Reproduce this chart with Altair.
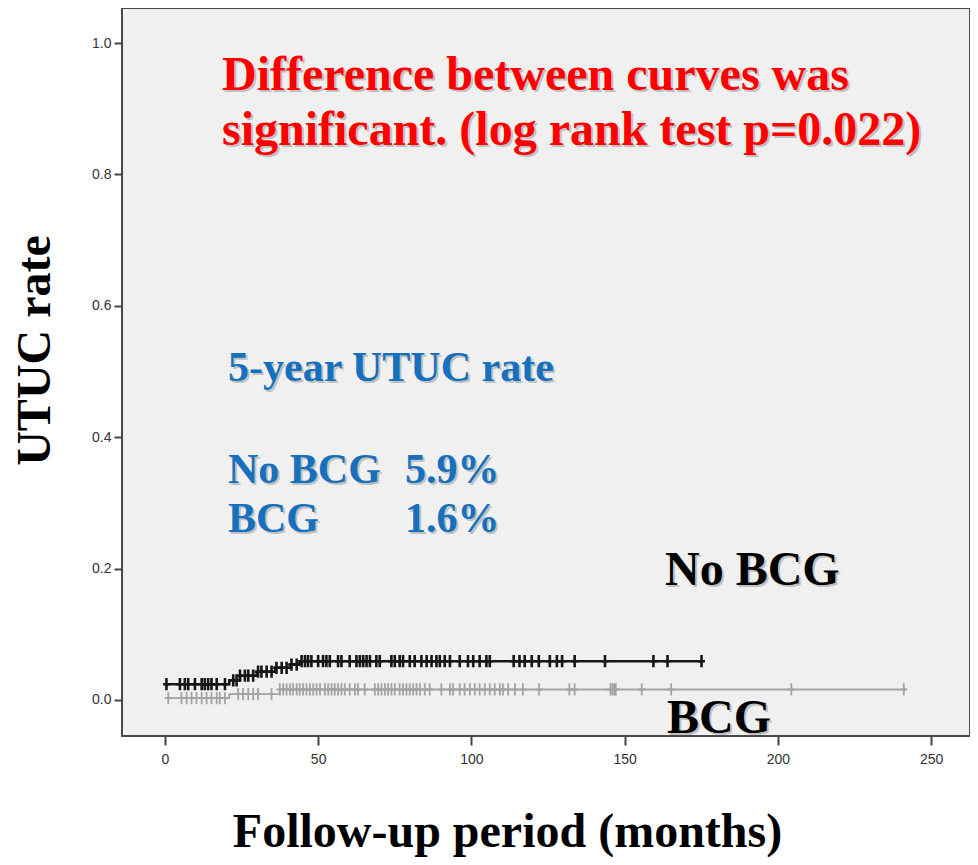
import altair as alt
import pandas as pd
import numpy as np

# ---------------- data ----------------
groups = ["No BCG", "BCG"]

# Kaplan-Meier cumulative UTUC rate: step times (months) and levels
nobcg_step_time = [0, 21, 24.5, 30, 36, 41, 44]
nobcg_step_rate = [0.024, 0.030, 0.037, 0.043, 0.049, 0.054, 0.059]
nobcg_end = 176

bcg_step_time = [0, 21, 37.5]
bcg_step_rate = [0.003, 0.009, 0.016]
bcg_end = 242

# censored observations (months)
nobcg_censored = [0.5, 4.9, 6.5, 7.6, 9.8, 12.0, 13.0, 14.1, 15.2, 16.9, 19.6, 22.3, 23.4,
                  24.5, 26.1, 27.2, 28.8, 30.4, 31.5, 33.2, 34.8, 36.4, 38.1, 39.7, 41.3,
                  43.0, 44.6, 45.7, 46.7, 47.8, 50.0, 51.6, 52.7, 53.8, 56.5, 57.6, 60.3,
                  62.5, 63.6, 64.7, 65.8, 66.9, 69.0, 70.1, 73.9, 75.0, 76.6, 77.7, 79.9,
                  81.5, 83.7, 85.4, 87.0, 88.6, 89.7, 91.3, 93.0, 96.2, 98.9, 100.6, 102.7,
                  104.9, 106.0, 113.8, 115.7, 117.4, 119.7, 122.0, 125.6, 127.9, 129.6,
                  133.7, 143.6, 159.4, 164.0, 175.1]
bcg_censored = [1.1, 5.4, 7.1, 8.7, 10.3, 12.0, 13.6, 15.2, 16.9, 17.9, 19.6, 23.9, 25.5,
                27.2, 28.8, 30.4, 34.8, 37.5, 38.6, 39.7, 40.8, 41.8, 43.0, 44.0, 45.1, 46.2,
                47.3, 48.4, 49.5, 50.6, 52.2, 53.3, 54.4, 55.4, 56.5, 57.6, 58.7, 60.3, 62.0,
                63.0, 65.2, 68.5, 69.6, 70.7, 71.8, 72.8, 73.9, 75.0, 76.6, 77.7, 78.8, 79.9,
                81.0, 82.1, 83.2, 84.8, 86.4, 90.2, 93.0, 94.0, 96.2, 97.8, 99.5, 101.1,
                102.7, 104.4, 106.0, 107.6, 109.3, 110.3, 112.0, 114.2, 116.8, 122.1, 132.0,
                133.7, 145.4, 146.0, 146.6, 147.1, 155.6, 165.2, 204.4, 241.1]

x_ticks = [0, 50, 100, 150, 200, 250]
y_ticks = [0.0, 0.2, 0.4, 0.6, 0.8, 1.0]

title_lines = ["Difference between curves was",
               "significant. (log rank test p=0.022)"]
rate_heading = "5-year UTUC rate"
rate_labels = ["No BCG", "BCG"]
rate_values = ["5.9%", "1.6%"]
x_title = "Follow-up period (months)"
y_title = "UTUC rate"

# ---------------- tables ----------------
def step_rows(name, times, rates, end):
    rows = [{"group": name, "t": t, "rate": r} for t, r in zip(times, rates)]
    rows.append({"group": name, "t": end, "rate": rates[-1]})
    return rows

def censor_rows(name, times, rates, cens):
    idx = np.searchsorted(np.array(times), np.array(cens), side="right") - 1
    return [{"group": name, "t": c, "rate": rates[i]} for c, i in zip(cens, idx)]

line_df = pd.DataFrame(
    step_rows("BCG", bcg_step_time, bcg_step_rate, bcg_end)
    + step_rows("No BCG", nobcg_step_time, nobcg_step_rate, nobcg_end)
)
cens_df = pd.DataFrame(
    censor_rows("BCG", bcg_step_time, bcg_step_rate, bcg_censored)
    + censor_rows("No BCG", nobcg_step_time, nobcg_step_rate, nobcg_censored)
)

xscale = alt.Scale(domain=[-14, 262.7], nice=False, zero=False)
yscale = alt.Scale(domain=[-0.0548, 1.0533], nice=False, zero=False)
color = alt.Color("group:N", scale=alt.Scale(domain=groups, range=["#161616", "#a3a3a3"]),
                  legend=None)
line_w = alt.StrokeWidth("group:N", scale=alt.Scale(domain=groups, range=[2.6, 1.8]),
                         legend=None)
mark_w = alt.StrokeWidth("group:N", scale=alt.Scale(domain=groups, range=[2.2, 1.5]),
                         legend=None)

x_axis = alt.Axis(values=x_ticks, format="d", grid=False, domain=False,
                  tickColor="#444444", tickWidth=2, tickSize=9,
                  labelFont="Liberation Sans", labelFontSize=14, labelColor="#333333",
                  labelPadding=7,
                  title=x_title, titleFont="Liberation Serif", titleFontWeight="bold",
                  titleFontSize=48, titleColor="#000000", titleX=385, titleY=110,
                  titleAlign="center", titleBaseline="alphabetic", titleAnchor="start")
y_axis = alt.Axis(values=y_ticks, format=".1f", grid=False, domain=False,
                  tickColor="#444444", tickWidth=2, tickSize=8,
                  labelFont="Liberation Sans", labelFontSize=14, labelColor="#333333",
                  labelPadding=3,
                  title=y_title, titleFont="Liberation Serif", titleFontWeight="bold",
                  titleFontSize=48, titleColor="#000000", titleAngle=270,
                  titleX=-73, titleY=342, titleAlign="center", titleBaseline="alphabetic",
                  titleAnchor="start")

lines = alt.Chart(line_df).mark_line(interpolate="step-after").encode(
    x=alt.X("t:Q", scale=xscale, axis=x_axis),
    y=alt.Y("rate:Q", scale=yscale, axis=y_axis),
    color=color,
    strokeWidth=line_w,
    detail="group:N",
    order=alt.Order("t:Q"),
)

cens = alt.Chart(cens_df).mark_point(
    shape="M-0.55,0L0.55,0M0,-1L0,1", filled=False, size=150, opacity=1
).encode(
    x=alt.X("t:Q", scale=xscale),
    y=alt.Y("rate:Q", scale=yscale),
    color=color,
    strokeWidth=mark_w,
)

one = pd.DataFrame({"k": [0]})

def label(s, x, y, size, col):
    shadow = alt.Chart(one).mark_text(
        text=s, align="left", baseline="alphabetic", font="Liberation Serif",
        fontWeight="bold", fontSize=size, color="#9a9a9a", opacity=0.55, dx=2, dy=2
    ).encode(x=alt.value(x), y=alt.value(y))
    main = alt.Chart(one).mark_text(
        text=s, align="left", baseline="alphabetic", font="Liberation Serif",
        fontWeight="bold", fontSize=size, color=col
    ).encode(x=alt.value(x), y=alt.value(y))
    return [shadow, main]

texts = []
texts += label(title_lines[0], 100, 82, 48, "#ff0000")
texts += label(title_lines[1], 100, 137, 48, "#ff0000")
texts += label(rate_heading, 106, 373, 42, "#1570be")
texts += label(rate_labels[0], 106, 475, 42, "#1570be")
texts += label(rate_values[0], 283, 475, 42, "#1570be")
texts += label(rate_labels[1], 106, 524, 42, "#1570be")
texts += label(rate_values[1], 283, 524, 42, "#1570be")
texts += label("No BCG", 543, 577, 48, "#000000")
texts += label("BCG", 545, 725, 48, "#000000")

chart = alt.layer(lines, cens, *texts).properties(
    width=848, height=728,
    padding={"left": 114, "top": 0, "right": 0, "bottom": 121},
    autosize=alt.AutoSizeParams(type="none"),
    background="white",
).configure_view(fill="#f0f0f0", stroke="#4a4a4a", strokeWidth=2)

chart.save("out.html", embed_options={"renderer": "svg", "actions": False})
